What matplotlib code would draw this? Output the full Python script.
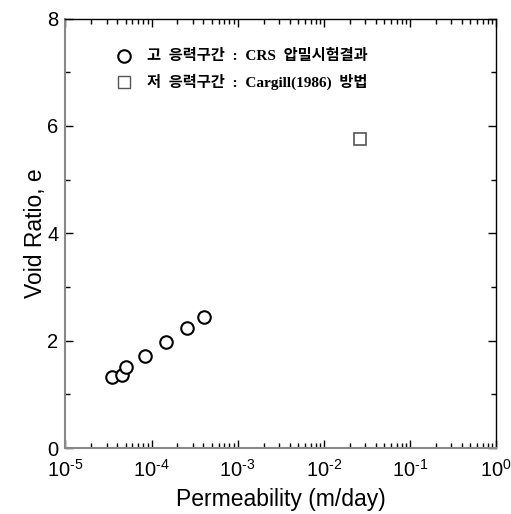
#!/usr/bin/env python3
# -*- coding: utf-8 -*-

import numpy as np
from matplotlib import pyplot as plt
from matplotlib.ticker import LogLocator, MultipleLocator, FuncFormatter

# High stress range: CRS consolidation test
k_crs = [3.5e-5, 4.5e-5, 5.1e-5, 8.4e-5, 1.48e-4, 2.55e-4, 4.1e-4]
e_crs = [1.33, 1.37, 1.51, 1.71, 1.98, 2.24, 2.45]

# Low stress range: Cargill (1986)
k_cargill = [0.026]
e_cargill = [5.75]

label_crs = '고  응력구간  :  CRS  압밀시험결과'
label_cargill = '저  응력구간  :  Cargill(1986)  방법'

plt.rcParams['font.family'] = ['Liberation Sans', 'DejaVu Sans']
plt.rcParams['mathtext.fontset'] = 'custom'
plt.rcParams['mathtext.rm'] = 'Liberation Sans'
plt.rcParams['mathtext.it'] = 'Liberation Sans'
plt.rcParams['mathtext.default'] = 'regular'
plt.rcParams['axes.unicode_minus'] = False


def exp_label(v, p):
    n = int(round(np.log10(v)))
    return '10$^{\\text{%d}}$' % n


fig = plt.figure(figsize=(5.11, 5.14), dpi=100)
ax = fig.add_axes([0.128, 0.128, 0.843, 0.836])

ax.plot(k_crs, e_crs, 'o', ms=9, mfc='white', mec='black', mew=1.5)
ax.plot(k_cargill, e_cargill, 's', ms=9, mfc='white', mec='#555555', mew=1.2)

ax.set_xscale('log')
ax.set_xlim(1e-5, 1)
ax.set_ylim(0, 8)
ax.yaxis.set_major_locator(MultipleLocator(2))
ax.yaxis.set_minor_locator(MultipleLocator(1))
ax.xaxis.set_major_locator(LogLocator(base=10, numticks=10))
ax.xaxis.set_minor_locator(LogLocator(base=10, subs=np.arange(2, 10), numticks=10))
ax.xaxis.set_major_formatter(FuncFormatter(exp_label))

ax.tick_params(which='both', direction='in', top=True, right=True, labelsize=14.5)
ax.tick_params(which='major', length=6, width=1)
ax.tick_params(which='minor', length=3.5, width=1)
ax.tick_params(axis='x', pad=8)
ax.tick_params(axis='y', pad=5)

for s in ['left', 'bottom']:
    ax.spines[s].set_color('#888888')
    ax.spines[s].set_linewidth(1.5)
for s in ['top', 'right']:
    ax.spines[s].set_color('black')
    ax.spines[s].set_linewidth(1)

ax.set_xlabel('Permeability (m/day)', fontsize=16.5, labelpad=5)
ax.set_ylabel('Void Ratio, e', fontsize=16.5, labelpad=0)

# manual legend
kfont = ['Liberation Serif', 'Noto Sans CJK KR']
ax.plot([0.136], [0.912], 'o', transform=ax.transAxes, ms=9, mfc='white', mec='black', mew=1.5)
ax.plot([0.136], [0.852], 's', transform=ax.transAxes, ms=9, mfc='white', mec='#555555', mew=1.0)
ax.text(0.19, 0.912, label_crs, transform=ax.transAxes, va='center', ha='left',
        fontsize=11, fontweight='bold', family=kfont)
ax.text(0.19, 0.852, label_cargill, transform=ax.transAxes, va='center', ha='left',
        fontsize=11, fontweight='bold', family=kfont)

fig.savefig('out.png', dpi=100)
